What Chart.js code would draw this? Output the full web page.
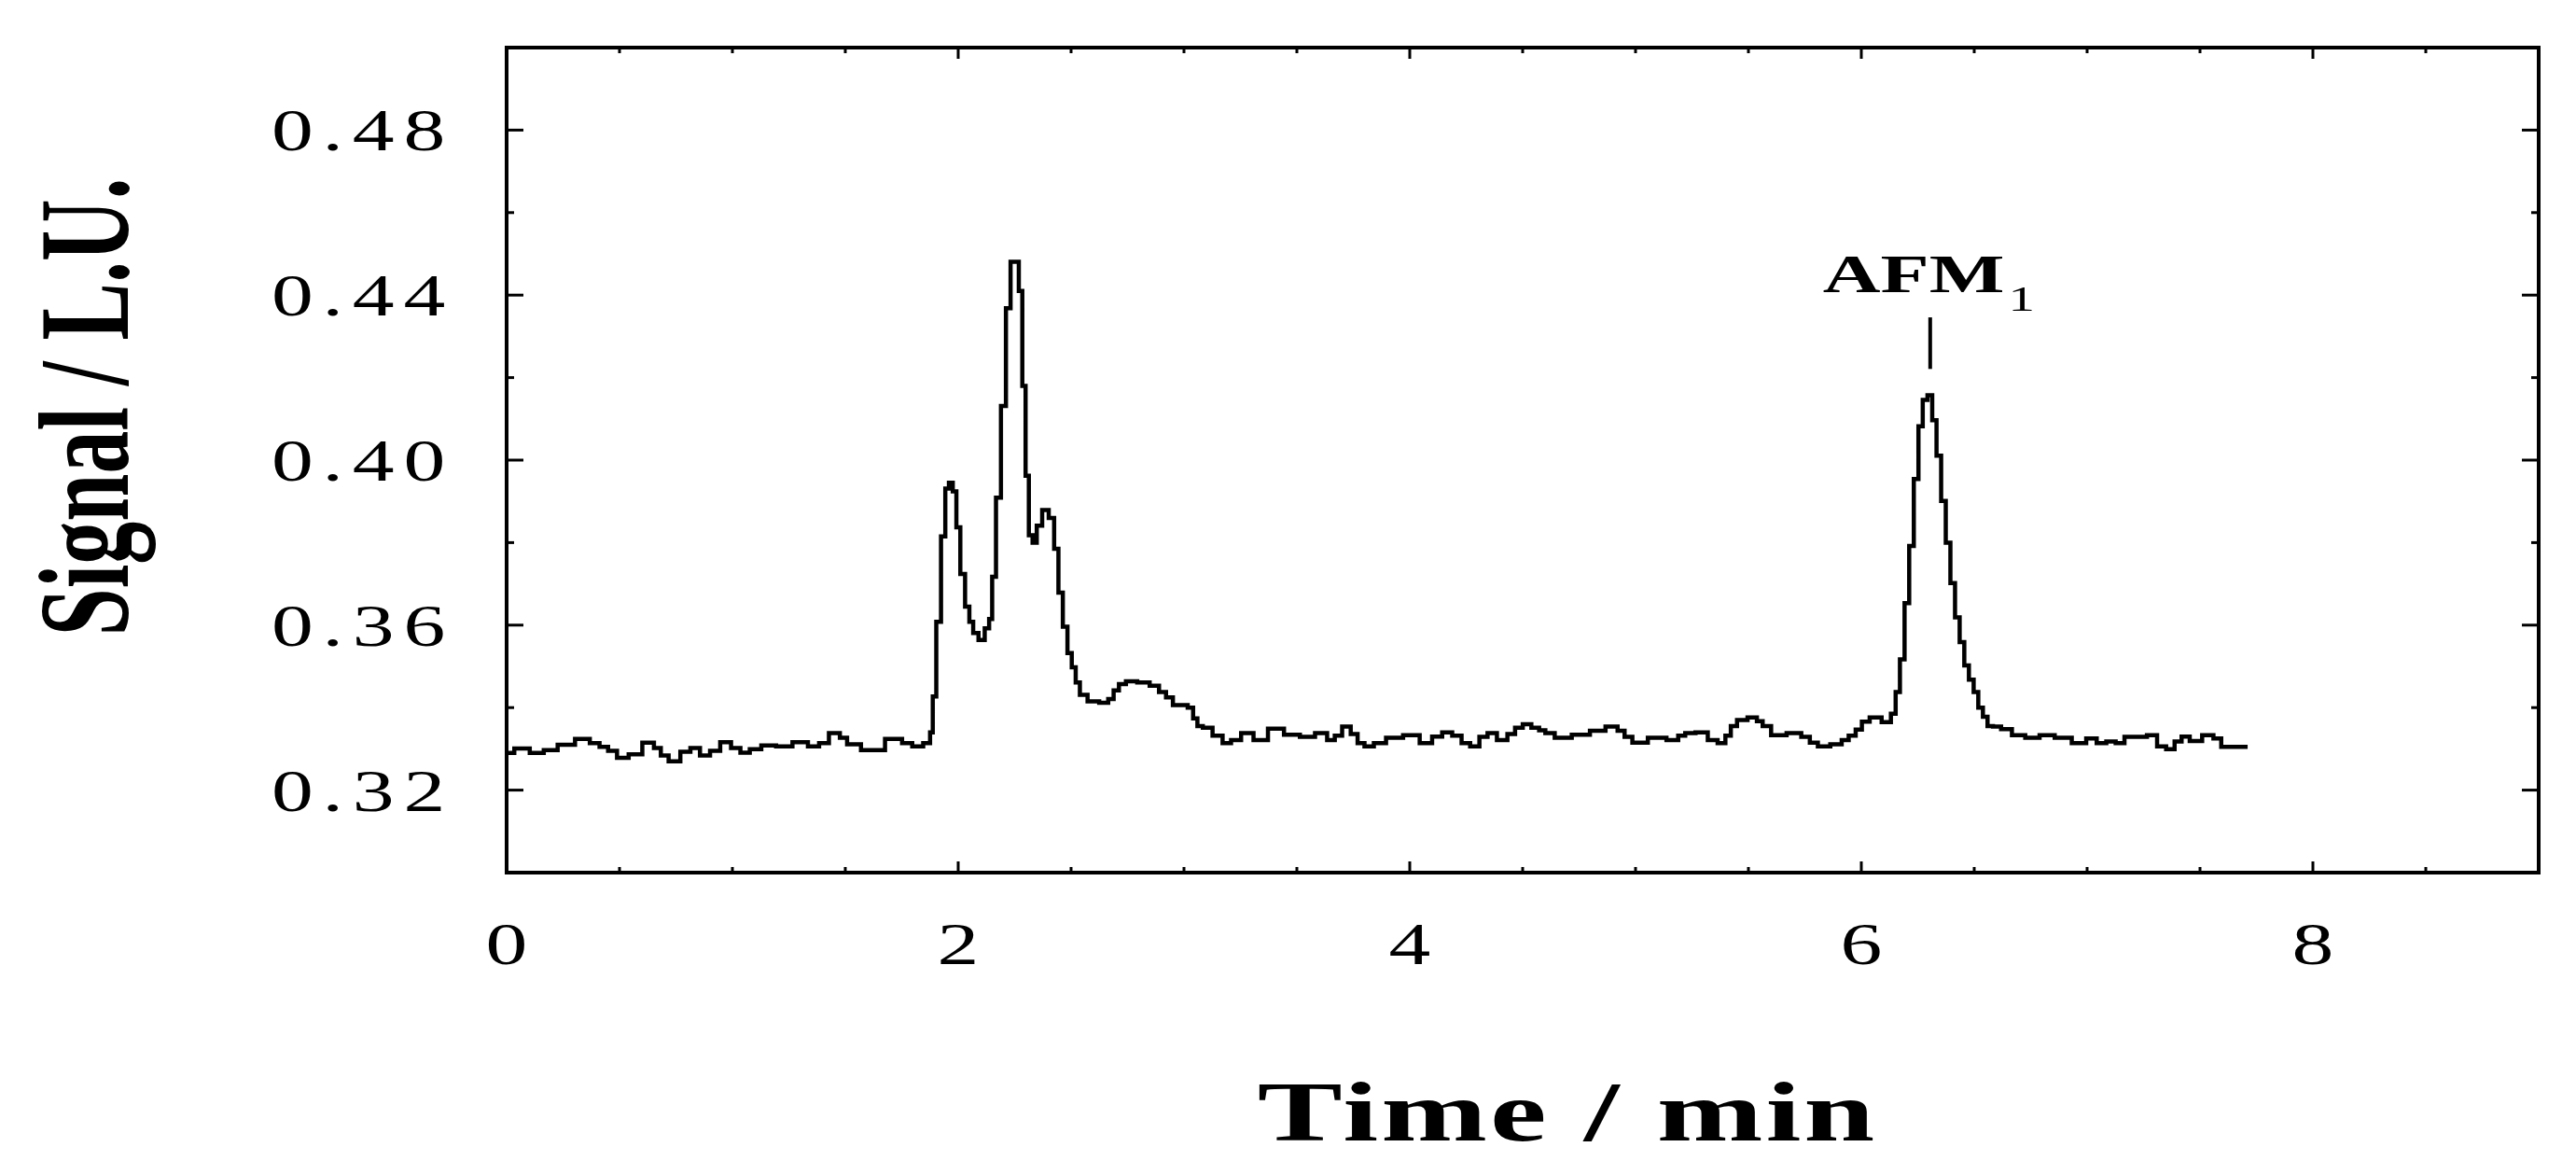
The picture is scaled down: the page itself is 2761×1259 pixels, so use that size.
<!DOCTYPE html>
<html>
<head>
<meta charset="utf-8">
<title>Signal / L.U. vs Time</title>
<script src="https://cdn.jsdelivr.net/npm/chart.js@4.4.1/dist/chart.umd.min.js"></script>
<style>
    html, body { margin: 0; padding: 0; background: #fff; }
    canvas { display: block; }
</style>
</head>
<body>
<canvas id="signalChart" width="2761" height="1259"></canvas>
<script>
// retention time (min) and detector signal (L.U.)
const times = [
    0.000, 0.068, 0.137, 0.192, 0.260, 0.346, 0.391, 0.432, 0.467, 0.511,
    0.570, 0.632, 0.673, 0.693, 0.742, 0.797, 0.831, 0.882, 0.920, 0.972,
    1.016, 1.055, 1.099, 1.157, 1.230, 1.302, 1.367, 1.401, 1.454, 1.498,
    1.518, 1.621, 1.731, 1.772, 1.821, 1.869, 1.882,
    1.893, 1.913, 1.935, 1.951, 1.967, 1.985, 1.999, 2.020, 2.041, 2.058,
    2.075, 2.105, 2.130, 2.144, 2.157, 2.178, 2.201, 2.222, 2.242, 2.260,
    2.277, 2.291, 2.306, 2.320, 2.339, 2.357, 2.387, 2.415, 2.435, 2.453,
    2.474, 2.494, 2.512, 2.529, 2.549, 2.597, 2.652, 2.677, 2.700, 2.724,
    2.762, 2.824, 2.872, 2.907, 2.934, 2.968, 3.003, 3.030, 3.051, 3.068,
    3.099, 3.154, 3.188, 3.229, 3.277, 3.339, 3.405, 3.481, 3.546, 3.615,
    3.653, 3.683, 3.718, 3.759, 3.779, 3.820, 3.862, 3.928, 4.013, 4.075,
    4.123, 4.164, 4.212, 4.247, 4.288, 4.329, 4.360, 4.412, 4.453, 4.480,
    4.521, 4.556, 4.590,
    4.611, 4.673, 4.762, 4.834, 4.900, 4.941, 4.962, 5.010, 5.099, 5.175,
    5.203, 5.237, 5.294, 5.346, 5.381, 5.415, 5.429, 5.470, 5.522, 5.553,
    5.573, 5.628, 5.710, 5.758, 5.786, 5.829, 5.896, 5.930, 5.958, 5.992,
    6.013, 6.061, 6.119, 6.143,
    6.161, 6.181, 6.202, 6.222, 6.243, 6.263, 6.281, 6.305, 6.323, 6.343,
    6.364, 6.384, 6.405, 6.425, 6.446, 6.466, 6.487, 6.508, 6.528, 6.549,
    6.569,
    6.597, 6.641, 6.693, 6.759, 6.820, 6.893, 6.971, 7.021, 7.064, 7.106,
    7.147, 7.184, 7.243, 7.287, 7.333, 7.367, 7.408, 7.429, 7.480, 7.539,
    7.580, 7.608, 7.711,
];
const signal = [
    0.3290, 0.3301, 0.3290, 0.3297, 0.3310, 0.3324, 0.3314, 0.3305, 0.3295, 0.3278,
    0.3287, 0.3315, 0.3302, 0.3284, 0.3270, 0.3293, 0.3302, 0.3284, 0.3295, 0.3316,
    0.3302, 0.3291, 0.3299, 0.3308, 0.3306, 0.3316, 0.3306, 0.3314, 0.3338, 0.3327,
    0.3311, 0.3297, 0.3324, 0.3314, 0.3306, 0.3314, 0.3340,
    0.3427, 0.3608, 0.3815, 0.3931, 0.3945, 0.3924, 0.3837, 0.3724, 0.3645, 0.3608,
    0.3581, 0.3564, 0.3592, 0.3615, 0.3717, 0.3909, 0.4131, 0.4368, 0.4481, 0.4481,
    0.4410, 0.4180, 0.3962, 0.3818, 0.3800, 0.3841, 0.3879, 0.3860, 0.3785, 0.3679,
    0.3596, 0.3532, 0.3498, 0.3461, 0.3431, 0.3415, 0.3412, 0.3421, 0.3442, 0.3457,
    0.3464, 0.3461, 0.3453, 0.3438, 0.3425, 0.3406, 0.3406, 0.3400, 0.3374, 0.3355,
    0.3351, 0.3332, 0.3314, 0.3321, 0.3338, 0.3321, 0.3349, 0.3334, 0.3329, 0.3338,
    0.3321, 0.3332, 0.3354, 0.3336, 0.3314, 0.3306, 0.3314, 0.3327, 0.3333, 0.3314,
    0.3330, 0.3340, 0.3332, 0.3314, 0.3306, 0.3329, 0.3338, 0.3321, 0.3336, 0.3351,
    0.3360, 0.3351, 0.3345,
    0.3338, 0.3327, 0.3334, 0.3344, 0.3354, 0.3344, 0.3329, 0.3315, 0.3327, 0.3321,
    0.3332, 0.3338, 0.3340, 0.3321, 0.3314, 0.3332, 0.3355, 0.3370, 0.3376, 0.3367,
    0.3355, 0.3333, 0.3338, 0.3329, 0.3315, 0.3306, 0.3311, 0.3321, 0.3332, 0.3347,
    0.3366, 0.3376, 0.3365, 0.3385,
    0.3438, 0.3517, 0.3653, 0.3792, 0.3954, 0.4082, 0.4146, 0.4157, 0.4097, 0.4011,
    0.3901, 0.3800, 0.3702, 0.3619, 0.3559, 0.3502, 0.3468, 0.3438, 0.3400, 0.3378,
    0.3355,
    0.3354, 0.3348, 0.3333, 0.3327, 0.3333, 0.3327, 0.3314, 0.3325, 0.3314, 0.3318,
    0.3314, 0.3329, 0.3329, 0.3333, 0.3306, 0.3299, 0.3318, 0.3330, 0.3319, 0.3333,
    0.3325, 0.3305, 0.3305,
];

// axis ticks
const xLabels = [0, 2, 4, 6, 8];
const xMinorTicks = [0.5, 1, 1.5, 2.5, 3, 3.5, 4.5, 5, 5.5, 6.5, 7, 7.5, 8.5];
const yLabels = [0.32, 0.36, 0.40, 0.44, 0.48];
const yMinorTicks = [0.34, 0.38, 0.42, 0.46];

// AFM1 peak marker
const afmTime = 6.305;
const afmMarkTop = 0.4346;
const afmMarkBottom = 0.4221;

const serif = "'Liberation Serif', 'Times New Roman', serif";

const stretchText = (ctx, str, px, py, font, align, sx, spacing) => {
    ctx.save();
    ctx.translate(px, py);
    ctx.scale(sx, 1);
    ctx.font = font;
    ctx.letterSpacing = spacing || "0px";
    ctx.textAlign = align;
    ctx.textBaseline = "alphabetic";
    ctx.fillText(str, 0, 0);
    ctx.restore();
};

const framePlugin = {
    id: "frame",
    beforeDraw(chart) {
        const { ctx, width, height } = chart;
        ctx.save();
        ctx.fillStyle = "#fff";
        ctx.fillRect(0, 0, width, height);
        ctx.restore();
    },
    afterDraw(chart) {
        const { ctx, chartArea: a } = chart;
        const xs = chart.scales.x;
        const ys = chart.scales.y;
        ctx.save();
        ctx.strokeStyle = "#000";
        ctx.fillStyle = "#000";

        const seg = (x1, y1, x2, y2) => {
            ctx.beginPath();
            ctx.moveTo(x1, y1);
            ctx.lineTo(x2, y2);
            ctx.stroke();
        };

        // ticks point inward, on all four sides
        ctx.lineWidth = 3;
        const vTick = (v, len) => {
            const px = xs.getPixelForValue(v);
            seg(px, a.bottom, px, a.bottom - len);
            seg(px, a.top, px, a.top + len);
        };
        const hTick = (v, len) => {
            const py = ys.getPixelForValue(v);
            seg(a.left, py, a.left + len, py);
            seg(a.right, py, a.right - len, py);
        };
        xLabels.forEach((v) => { if (v > 0) vTick(v, 12); });
        xMinorTicks.forEach((v) => vTick(v, 6));
        yLabels.forEach((v) => hTick(v, 18));
        yMinorTicks.forEach((v) => hTick(v, 8));

        ctx.lineWidth = 4;
        ctx.strokeRect(a.left, a.top, a.right - a.left, a.bottom - a.top);

        // tick labels
        const tickFont = `64px ${serif}`;
        yLabels.forEach((v) => {
            const py = ys.getPixelForValue(v);
            stretchText(ctx, v.toFixed(2), a.left - 56, py + 22, tickFont, "right", 1.4, "7px");
        });
        xLabels.forEach((v) => {
            const px = xs.getPixelForValue(v);
            stretchText(ctx, String(v), px, a.bottom + 98, tickFont, "center", 1.4, "0px");
        });

        // axis titles
        stretchText(ctx, "Time / min", (a.left + a.right) / 2 + 48, a.bottom + 287,
            `bold 91px ${serif}`, "center", 1.5, "2px");

        ctx.save();
        ctx.translate(a.left - 406, a.top + 385);
        ctx.scale(1.5, 1);
        ctx.rotate(-Math.PI / 2);
        ctx.font = `bold 92px ${serif}`;
        ctx.textAlign = "center";
        ctx.textBaseline = "alphabetic";
        ctx.fillText("Signal / L.U.", 0, 0);
        ctx.restore();

        // AFM1 annotation
        const mx = xs.getPixelForValue(afmTime);
        const myTop = ys.getPixelForValue(afmMarkTop);
        const myBottom = ys.getPixelForValue(afmMarkBottom);
        ctx.lineWidth = 4;
        seg(mx, myTop, mx, myBottom);
        const afmFont = `bold 57px ${serif}`;
        stretchText(ctx, "AFM", mx - 115, myTop - 27, afmFont, "left", 1.5, "0px");
        ctx.font = afmFont;
        const afmWidth = ctx.measureText("AFM").width * 1.5;
        stretchText(ctx, "1", mx - 115 + afmWidth + 4, myTop - 7, `38px ${serif}`, "left", 1.5, "0px");

        ctx.restore();
    },
};

const ctx = document.getElementById("signalChart").getContext("2d");

new Chart(ctx, {
    type: "line",
    data: {
        datasets: [
            {
                label: "Signal",
                data: times.map((t, i) => ({ x: t, y: signal[i] })),
                borderColor: "#000",
                borderWidth: 4.5,
                pointRadius: 0,
                stepped: "middle",
                fill: false,
            },
        ],
    },
    options: {
        responsive: false,
        animation: false,
        devicePixelRatio: 1,
        layout: {
            padding: { left: 543, top: 51, right: 40, bottom: 324 },
        },
        plugins: {
            legend: { display: false },
            tooltip: { enabled: false },
        },
        scales: {
            x: { type: "linear", min: 0, max: 9, display: false },
            y: { type: "linear", min: 0.30, max: 0.50, display: false },
        },
    },
    plugins: [framePlugin],
});
</script>
</body>
</html>
